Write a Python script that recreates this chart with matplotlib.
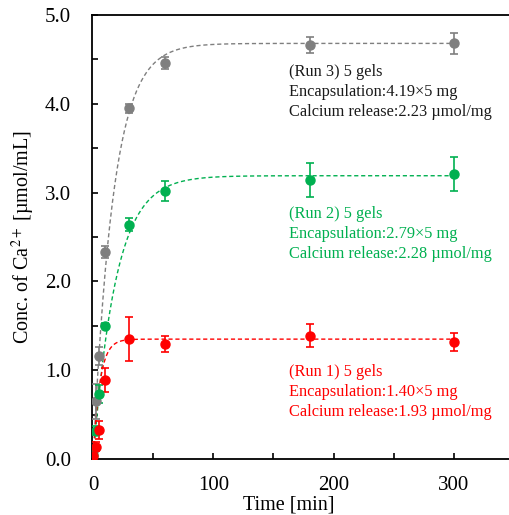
import numpy as np
import matplotlib
matplotlib.use("Agg")
import matplotlib.pyplot as plt
from matplotlib.ticker import MultipleLocator

plt.rcParams["font.family"] = "Liberation Serif"
plt.rcParams["mathtext.fontset"] = "stix"

# sampling times [min]
time = [0, 2, 5, 10, 30, 60, 180, 300]

# Run 3 (gray)
run3_conc = [0.09, 0.65, 1.16, 2.33, 3.95, 4.46, 4.66, 4.68]
run3_err = [0.05, 0.20, 0.10, 0.07, 0.05, 0.07, 0.09, 0.12]
# Run 2 (green)
run2_conc = [0.05, 0.32, 0.73, 1.50, 2.64, 3.02, 3.14, 3.21]
run2_err = [0.03, 0.05, 0.10, 0.03, 0.07, 0.11, 0.19, 0.19]
# Run 1 (red)
run1_conc = [0.03, 0.14, 0.33, 0.89, 1.35, 1.30, 1.39, 1.32]
run1_err = [0.02, 0.05, 0.10, 0.14, 0.25, 0.09, 0.13, 0.10]

# first-order release fits: plateau, rate constant [1/min]
fit_plateau = {"run3": 4.68, "run2": 3.19, "run1": 1.35}
fit_rate = {"run3": 0.060, "run2": 0.053, "run1": 0.18}

labels = {
    "run3": ["(Run 3) 5 gels", "Encapsulation:4.19\u00d75 mg", "Calcium release:2.23 \u00b5mol/mg"],
    "run2": ["(Run 2) 5 gels", "Encapsulation:2.79\u00d75 mg", "Calcium release:2.28 \u00b5mol/mg"],
    "run1": ["(Run 1) 5 gels", "Encapsulation:1.40\u00d75 mg", "Calcium release:1.93 \u00b5mol/mg"],
}
colors = {"run3": "#7f7f7f", "run2": "#00b050", "run1": "#ff0000"}

fig = plt.figure(figsize=(5.09, 5.15), dpi=100)
ax = fig.add_axes([0.1807, 0.1087, 0.8193, 0.8622])

series = [("run3", run3_conc, run3_err), ("run2", run2_conc, run2_err), ("run1", run1_conc, run1_err)]
t_fit = np.linspace(0, 300, 600)
for key, conc, err in series:
    c = colors[key]
    y_fit = fit_plateau[key] * (1 - np.exp(-fit_rate[key] * t_fit))
    ax.plot(t_fit, y_fit, ls=(0, (3, 2)), color=c, lw=1.0, zorder=2)
    ax.errorbar(time, conc, yerr=err, fmt="o", color=c, ms=6.5, elinewidth=1.2,
                capsize=3, capthick=1.2, zorder=3)

# annotations
text_y = {"run3": 4.36, "run2": 2.76, "run1": 0.98}
for key in ["run3", "run2", "run1"]:
    for i, line in enumerate(labels[key]):
        ax.text(163, text_y[key] - i * 0.225, line, color=colors[key] if key != "run3" else "#1a1a1a",
                fontsize=11.8, va="center", ha="left")

ax.set_xlim(-1, 346)
ax.set_ylim(0, 5.0)
ax.xaxis.set_major_locator(MultipleLocator(100))
ax.xaxis.set_minor_locator(MultipleLocator(50))
ax.yaxis.set_major_locator(MultipleLocator(1.0))
ax.yaxis.set_minor_locator(MultipleLocator(0.5))
ax.yaxis.set_major_formatter(matplotlib.ticker.FormatStrFormatter("%.1f"))
ax.tick_params(which="both", direction="in", length=4, width=1.2, labelsize=15)
ax.tick_params(axis="x", pad=12)
ax.tick_params(axis="y", pad=15)
ax.spines["right"].set_visible(False)
for s in ["left", "bottom", "top"]:
    ax.spines[s].set_linewidth(1.3)

ax.set_xlabel("Time [min]", fontsize=14.5)
ax.xaxis.set_label_coords(0.473, -0.083)
ax.set_ylabel("Conc. of Ca$^{2+}$ [\u00b5mol/mL]", fontsize=14.5, labelpad=6)

fig.savefig("out.png", dpi=100)
